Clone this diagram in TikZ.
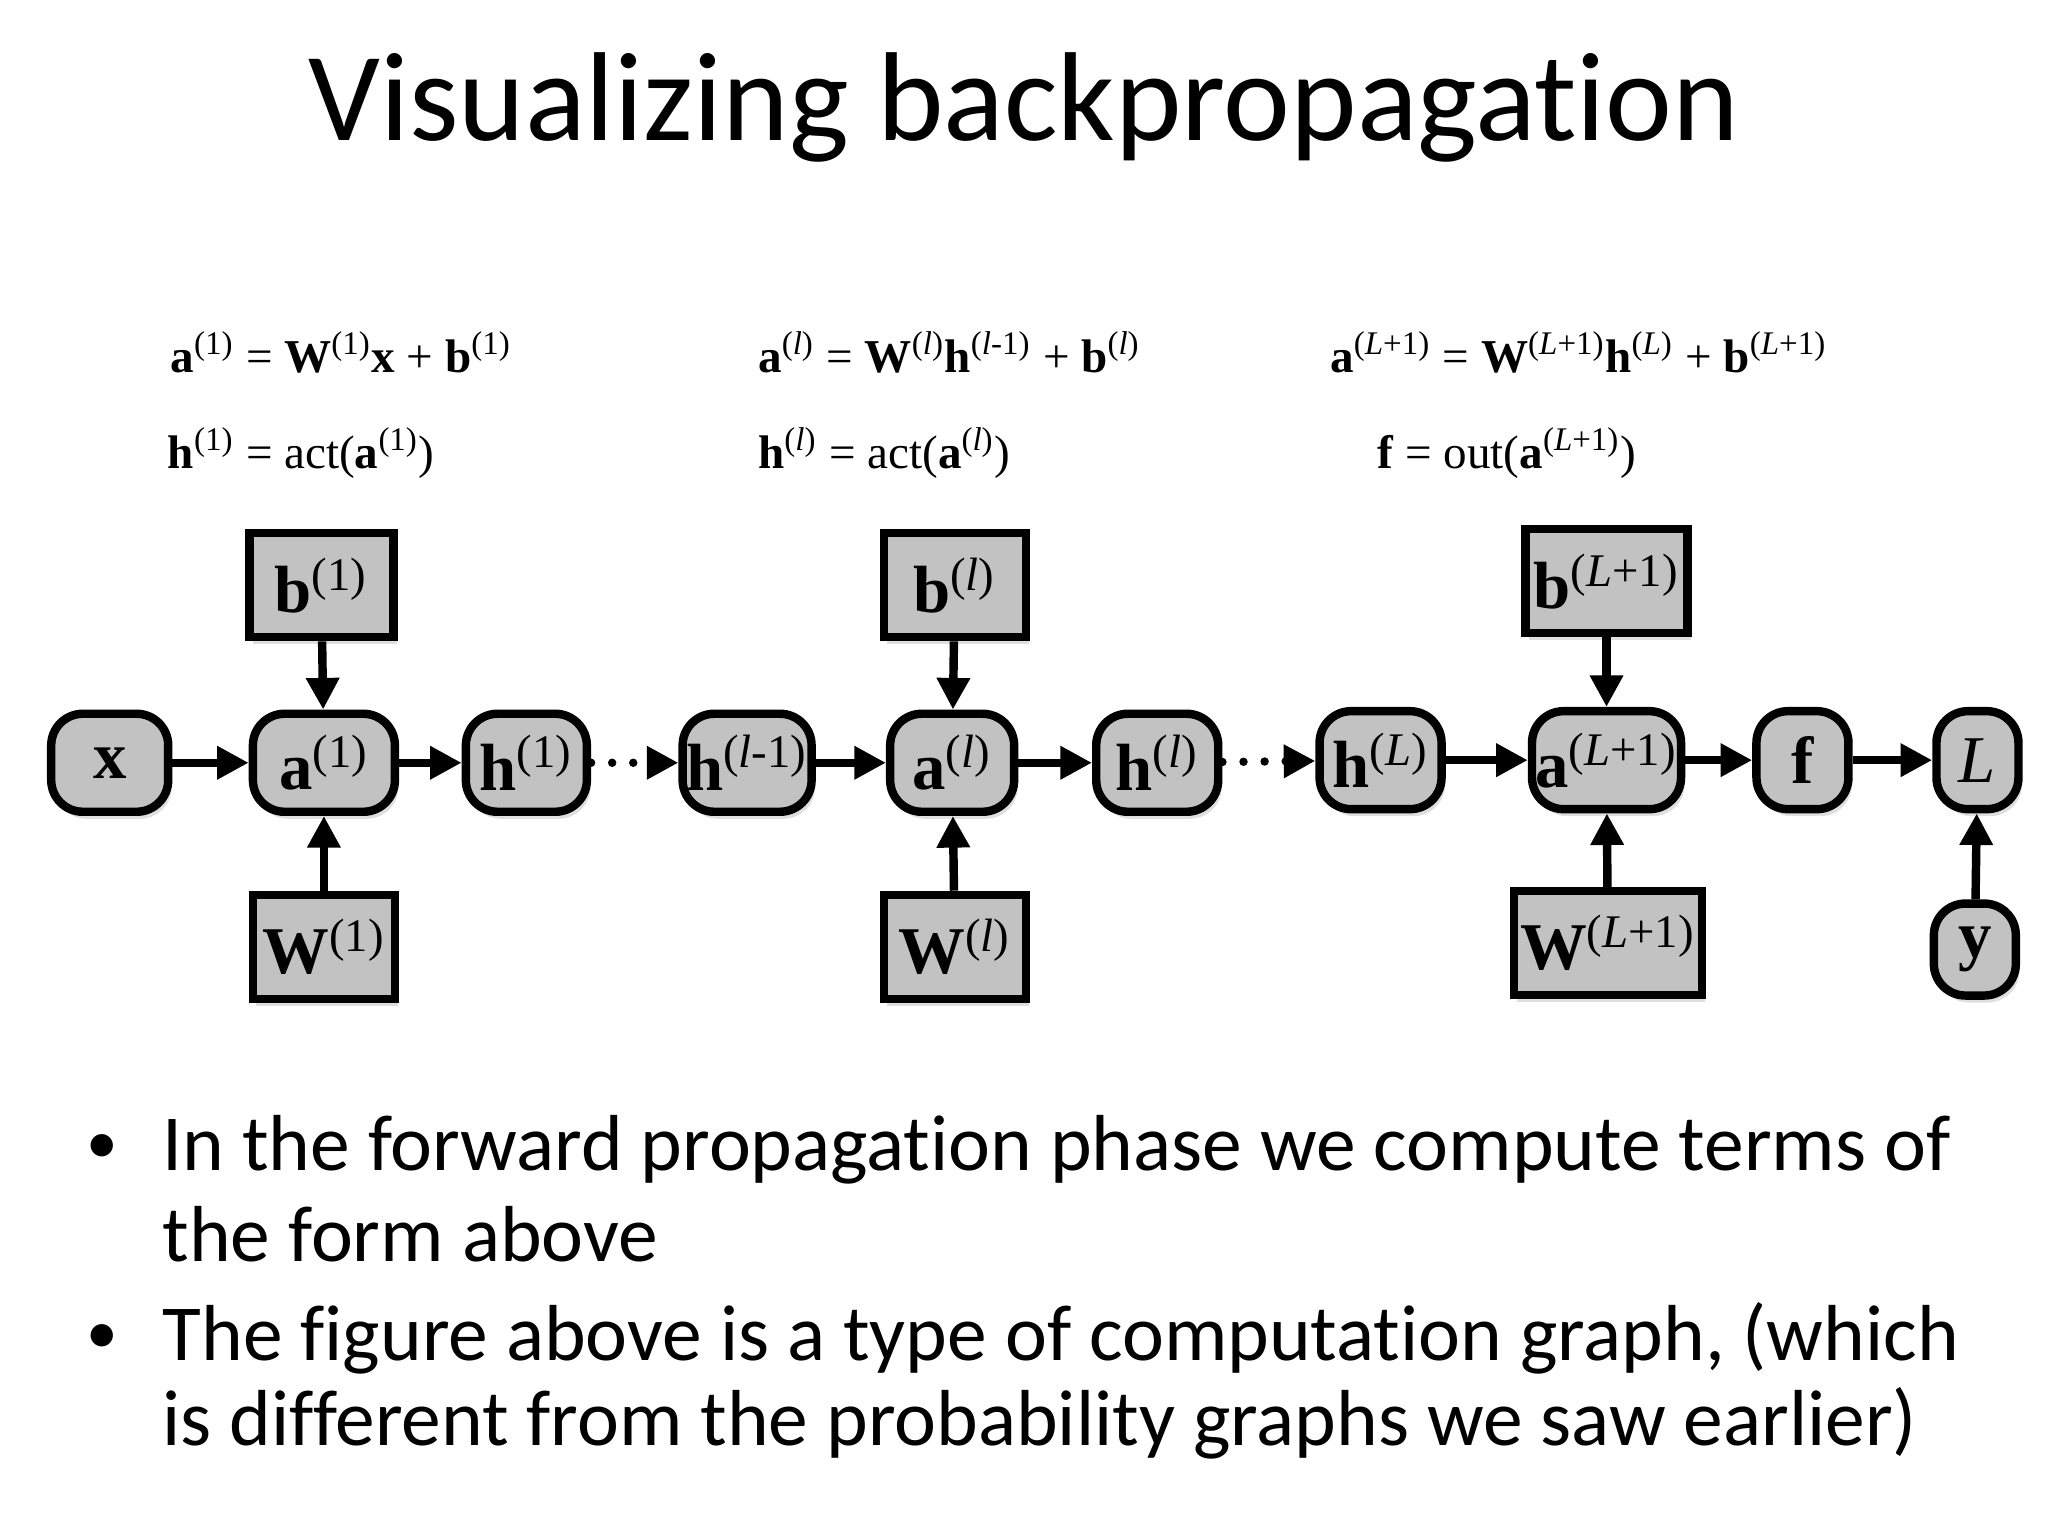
\documentclass[tikz,border=0pt]{standalone}
\usepackage{fontspec}
\setmainfont[Ligatures={NoCommon}]{Carlito}
\newfontfamily\tm{Liberation Serif}
\usetikzlibrary{arrows.meta,shadows}
\newcommand{\su}[1]{\textsuperscript{\mdseries #1}}
\newcommand{\B}[1]{\textbf{#1}}
\newcommand{\il}{\textit{l}}
\newcommand{\iL}{\textit{L}}
\begin{document}
\begin{tikzpicture}[x=0.013061cm,y=-0.013061cm,
  box/.style={draw=black,line width=2.4pt,fill=gray!50!white!95,minimum height=0.98cm,inner sep=1pt,
    font=\tm\fontsize{19}{19}\selectfont\bfseries,drop shadow={shadow xshift=1pt,shadow yshift=-2pt,opacity=0.25}},
  rb/.style={box,rounded corners=9pt},
  sb/.style={box,minimum height=1.04cm},
  ar/.style={line width=2.4pt,-{Triangle[length=9pt,width=9pt]}},
  eq/.style={font=\tm\fontsize{13.4}{13.4}\selectfont,anchor=west,inner sep=0pt}]
\useasboundingbox (0,0) rectangle (1568,1176);
\node[font=\fontsize{36}{36}\selectfont] at (784,82) {Visualizing backpropagation};
% equations
\node[eq] at (130,270) {\B{a}\su{(1)} = \B{W}\su{(1)}\B{x} + \B{b}\su{(1)}};
\node[eq] at (128,347) {\B{h}\su{(1)} = act(\B{a}\su{(1)})};
\node[eq] at (580,270) {\B{a}\su{(\il)} = \B{W}\su{(\il)}\B{h}\su{(\il-1)} + \B{b}\su{(\il)}};
\node[eq] at (580,347) {\B{h}\su{(\il)} = act(\B{a}\su{(\il)})};
\node[eq] at (1018,270) {\B{a}\su{(\iL+1)} = \B{W}\su{(\iL+1)}\B{h}\su{(\iL)} + \B{b}\su{(\iL+1)}};
\node[eq] at (1054,347) {\B{f} = out(\B{a}\su{(\iL+1)})};
% boxes
\node[rb,minimum width=1.17cm] (x) at (84,584) {x};
\node[rb,minimum width=1.42cm] (a1) at (248,584) {a\su{(1)}};
\node[rb,minimum width=1.21cm] (h1) at (403,584) {h\su{(1)}};
\node[rb,minimum width=1.21cm] (hl1) at (572,584) {h\su{(\il-1)}};
\node[rb,minimum width=1.24cm] (al) at (729,584) {a\su{(\il)}};
\node[rb,minimum width=1.22cm] (hl) at (886,584) {h\su{(\il)}};
\node[rb,minimum width=1.22cm] (hL) at (1057,582) {h\su{(\iL)}};
\node[rb,minimum width=1.44cm] (aL) at (1230,582) {a\su{(\iL+1)}};
\node[rb,minimum width=0.92cm] (f) at (1380,582) {f};
\node[rb,minimum width=0.82cm] (L) at (1514,582) {\mdseries\textit{L}};
\node[rb,minimum width=0.82cm,minimum height=0.92cm] (y) at (1512,727) {y};
\node[sb,minimum width=1.44cm] (b1) at (246,448) {b\su{(1)}};
\node[sb,minimum width=1.42cm] (W1) at (248,725) {W\su{(1)}};
\node[sb,minimum width=1.42cm] (bl) at (731,448) {b\su{(\il)}};
\node[sb,minimum width=1.42cm] (Wl) at (731,725) {W\su{(\il)}};
\node[sb,minimum width=1.62cm] (bL) at (1230,445) {b\su{(\iL+1)}};
\node[sb,minimum width=1.88cm] (WL) at (1231,722) {W\su{(\iL+1)}};
% arrows
\draw[ar] (x) -- (a1);
\draw[ar] (a1) -- (h1);
\draw[ar] (hl1) -- (al);
\draw[ar] (al) -- (hl);
\draw[ar] (hL) -- (aL);
\draw[ar] (aL) -- (f);
\draw[ar] (f) -- (L);
\draw[ar] (y) -- (L);
\draw[ar] (b1) -- (a1);
\draw[ar] (W1) -- (a1);
\draw[ar] (bl) -- (al);
\draw[ar] (Wl) -- (al);
\draw[ar] (bL) -- (aL);
\draw[ar] (WL) -- (aL);
\draw[line width=2.4pt,dash pattern=on 0pt off 6pt,line cap=round,-{Triangle[length=9pt,width=9pt]}] (h1) -- (hl1);
\draw[line width=2.4pt,dash pattern=on 0pt off 6pt,line cap=round,-{Triangle[length=9pt,width=9pt]}] (hl) -- (hL);
% bullets
\begin{scope}[every node/.style={anchor=west,inner sep=0pt,font=\fontsize{22.6}{22.6}\selectfont}]
\node at (66,880) {\fontsize{18}{18}\selectfont •};
\node at (124,880) {In the forward propagation phase we compute terms of};
\node at (124,945) {the form above};
\node at (66,1025) {\fontsize{18}{18}\selectfont •};
\node at (124,1025) {The figure above is a type of computation graph, (which};
\node at (124,1090) {is different from the probability graphs we saw earlier)};
\end{scope}
\end{tikzpicture}
\end{document}
